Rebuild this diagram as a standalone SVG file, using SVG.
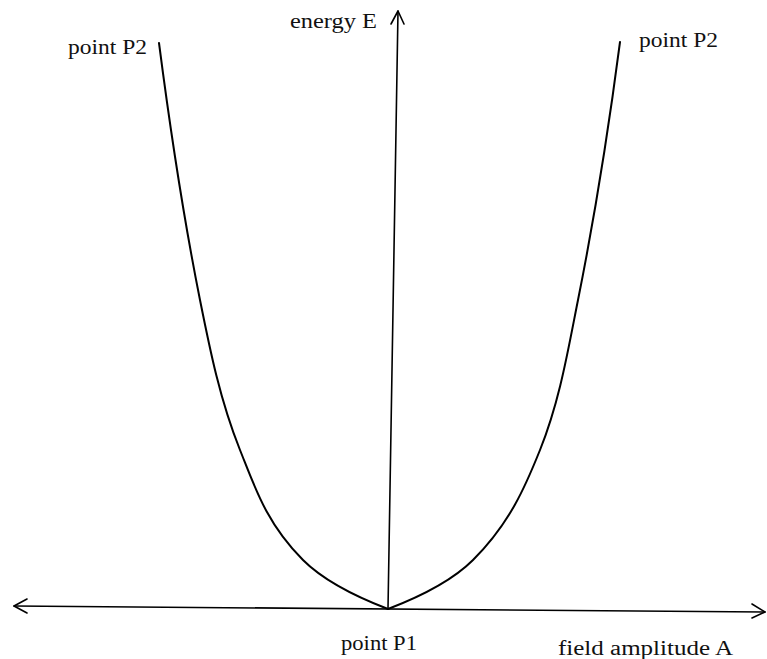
<svg xmlns="http://www.w3.org/2000/svg" width="767" height="659" viewBox="0 0 767 659">
<style>
.ln{fill:none;stroke:#000;stroke-width:2;stroke-linecap:round;stroke-linejoin:round}
.ax{fill:none;stroke:#000;stroke-width:1.6;stroke-linecap:round;stroke-linejoin:round}
.t{font-family:"Liberation Serif","Times New Roman",serif;font-size:20px;fill:#111}
</style>
<rect width="767" height="659" fill="#fff"/>
<g id="connectors">
<path class="ax" d="M14,606 L765,612"/>
<path class="ax" d="M27,599 L14,606 L27,613"/>
<path class="ax" d="M752,604 L765,612 L752,618"/>
<path class="ax" d="M388,609 L398,11"/>
<path class="ax" d="M391,24 L398,11 L404,24"/>
</g>
<g id="curve-left">
<path class="ln" d="M159,43 C170.1,128.7 182.9,214.3 200,300 C210,350 220,400 240,450 C254.7,486.7 266.3,523.3 303,560 C319.3,576.3 345.5,592.7 388,609"/>
</g>
<g id="curve-right">
<path class="ln" d="M388,609 C430.5,592.7 456.7,576.3 473,560 C509.7,523.3 525.3,486.7 540,450 C560,400 568,350 578,300 C595.2,214 608.8,128 620,42"/>
</g>
<g id="label-energy"><text class="t" x="290" y="28" textLength="87" lengthAdjust="spacingAndGlyphs">energy E</text></g>
<g id="label-p2-left"><text class="t" x="68" y="54" textLength="79" lengthAdjust="spacingAndGlyphs">point P2</text></g>
<g id="label-p2-right"><text class="t" x="639" y="47" textLength="79" lengthAdjust="spacingAndGlyphs">point P2</text></g>
<g id="label-p1"><text class="t" x="341" y="650" textLength="76" lengthAdjust="spacingAndGlyphs">point P1</text></g>
<g id="label-field"><text class="t" x="558" y="655" textLength="175" lengthAdjust="spacingAndGlyphs">field amplitude A</text></g>
</svg>
